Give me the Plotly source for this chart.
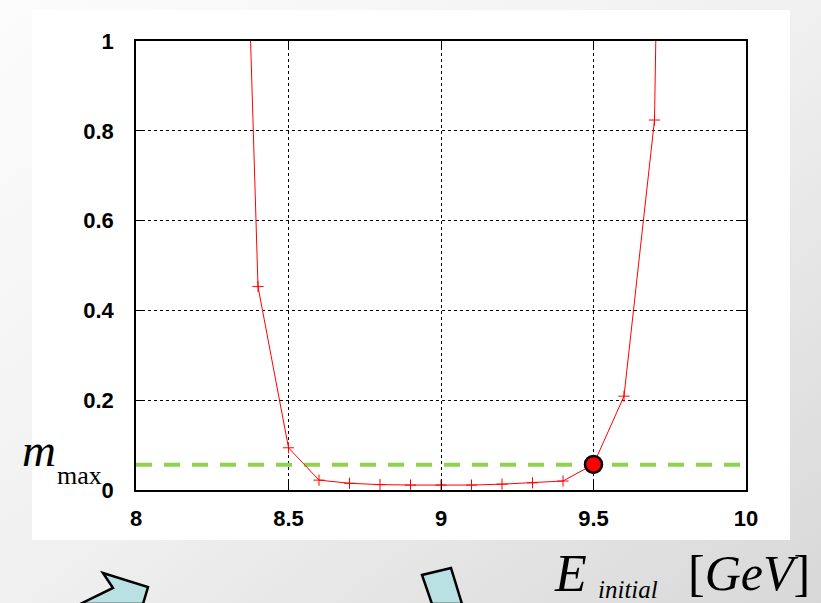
import base64
import plotly.graph_objects as go

# ---------------- data ----------------
energy = [8.3, 8.4, 8.5, 8.6, 8.7, 8.8, 8.9, 9.0, 9.1, 9.2, 9.3, 9.4, 9.5, 9.6, 9.7, 9.8]
m_values = [2.7, 0.453, 0.094, 0.022, 0.015, 0.012, 0.011, 0.011, 0.011, 0.013, 0.016, 0.020, 0.057, 0.209, 0.824, 5.0]
m_max = 0.056
highlight_E = [9.5]
highlight_m = [0.057]
x_ticks = [8, 8.5, 9, 9.5, 10]
x_tick_labels = ["8", "8.5", "9", "9.5", "10"]
y_ticks = [0, 0.2, 0.4, 0.6, 0.8, 1]
y_tick_labels = ["0", "0.2", "0.4", "0.6", "0.8", "1"]

# ---------------- layout geometry ----------------
W, H = 821, 603
L, R, T, B = 136, 75, 41, 113
PW, PH = W - L - R, H - T - B


def px(x):
    return (x - L) / PW


def py(y):
    return (H - B - y) / PH


def path(points):
    pts = [f"{px(a):.5f},{py(b):.5f}" for a, b in points]
    return "M " + " L ".join(pts) + " Z"


fig = go.Figure()

fig.add_trace(go.Scatter(
    x=[x_ticks[0], x_ticks[-1]], y=[m_max, m_max], mode="lines",
    line=dict(color="#92d050", width=4, dash="16px,12px"),
    hoverinfo="skip", showlegend=False))

fig.add_trace(go.Scatter(
    x=energy, y=m_values, mode="lines+markers",
    line=dict(color="#ff0000", width=1),
    marker=dict(symbol="cross-thin", size=8, color="#ff0000",
                line=dict(color="#ff0000", width=1)),
    showlegend=False))

fig.add_trace(go.Scatter(
    x=highlight_E, y=highlight_m, mode="markers",
    marker=dict(symbol="circle", size=17, color="#ff0000",
                line=dict(color="#000000", width=2.5)),
    cliponaxis=False, showlegend=False))

# background gradient
svg = (f'<svg xmlns="http://www.w3.org/2000/svg" width="{W}" height="{H}">'
       '<defs><linearGradient id="g" x1="0" y1="0" x2="1" y2="1">'
       '<stop offset="0" stop-color="#fcfcfc"/><stop offset="0.5" stop-color="#f0f0f0"/>'
       '<stop offset="1" stop-color="#d8d8d8"/>'
       '</linearGradient></defs>'
       f'<rect width="{W}" height="{H}" fill="url(#g)"/></svg>')
src = "data:image/svg+xml;base64," + base64.b64encode(svg.encode()).decode()

shapes = [
    dict(type="rect", xref="paper", yref="paper", layer="below",
         x0=px(32), x1=px(790), y0=py(540), y1=py(10),
         fillcolor="white", line=dict(width=0)),
    dict(type="path", xref="paper", yref="paper", layer="above",
         path=path([(80, 604), (113, 588), (103, 573), (148, 587), (143, 604)]),
         fillcolor="#b9e0e3", line=dict(color="black", width=2.5)),
    dict(type="path", xref="paper", yref="paper", layer="above",
         path=path([(432, 604), (422, 575), (451, 568), (462, 604)]),
         fillcolor="#b9e0e3", line=dict(color="black", width=2.5)),
]

serif = "Liberation Serif"


def ann(text, x, yc, size, italic=True):
    return dict(text=text, xref="paper", yref="paper", x=px(x), y=py(yc),
                xanchor="left", yanchor="middle", showarrow=False,
                font=dict(family=serif, size=size, color="black",
                          style="italic" if italic else "normal"))


annotations = [
    ann("m", 20, 450, 47),
    ann("max", 55, 475, 26, italic=False),
    ann("E", 552, 573, 52),
    ann("initial", 596, 589, 25),
    ann("[<i>GeV</i>]", 686, 573, 50, italic=False),
]

axis_common = dict(
    showline=True, linecolor="black", linewidth=1.5, mirror="ticks",
    ticks="inside", ticklen=8, tickwidth=1, tickcolor="black",
    showgrid=True, gridcolor="black", gridwidth=1, griddash="dot",
    zeroline=False,
    tickfont=dict(family="Liberation Sans", size=22, color="black", weight="bold"),
)

fig.update_layout(
    width=W, height=H,
    margin=dict(l=L, r=R, t=T, b=B, pad=0),
    paper_bgcolor="#eeeeee", plot_bgcolor="white",
    images=[dict(source=src, xref="paper", yref="paper", x=px(0), y=py(0),
                 sizex=W / PW, sizey=H / PH, xanchor="left", yanchor="top",
                 sizing="stretch", layer="below")],
    shapes=shapes, annotations=annotations,
    xaxis=dict(range=[8, 10], tickvals=x_ticks, ticktext=x_tick_labels,
               ticklabelstandoff=8, **axis_common),
    yaxis=dict(range=[0, 1], tickvals=y_ticks, ticktext=y_tick_labels,
               ticklabelstandoff=16, **axis_common),
    showlegend=False,
)

fig.write_html("out.html", config={"displayModeBar": False},
               post_script="document.body.style.margin='0px';document.body.style.overflow='hidden';")
